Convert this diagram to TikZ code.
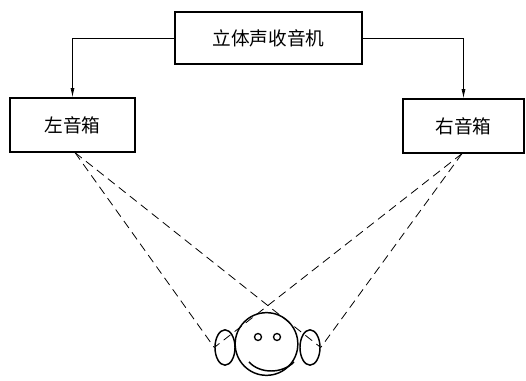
\documentclass[tikz,border=0pt]{standalone}
\usepackage{fontspec}
\newfontfamily\cjk{Noto Sans CJK SC}
\usetikzlibrary{calc,positioning,shapes.geometric,arrows.meta}
\tikzset{
    box/.style={draw, line width=1.4pt, minimum height=40pt, font=\cjk\fontsize{14}{16}\selectfont, inner sep=0pt},
    feed/.style={-{Latex[length=7pt,width=3pt]}, line width=0.6pt},
    sound/.style={dash pattern=on 6.5pt off 4pt, line width=0.6pt},
    ear/.style={draw, ellipse, line width=1.1pt, minimum width=15pt, minimum height=26.5pt, inner sep=0pt},
}

\begin{document}
\begin{tikzpicture}[x=0.75pt,y=0.75pt,yscale=-1,xscale=1]
\useasboundingbox (0,0) rectangle (526,381);
%Boxes
\node[box, minimum width=140pt, minimum height=39pt] (radio) at (268.5,38) {立体声收音机};
\node[box, minimum width=94pt] (lspk) at (72.5,125) {左音箱};
\node[box, minimum width=91pt] (rspk) at (463.5,126) {右音箱};
%Feeds
\draw[feed] (radio.west) -| (lspk.north);
\draw[feed] (radio.east) -| (rspk.north);
%Listener
\node[ear] (lear) at (225,347.5) {};
\node[ear] (rear) at (310,347.5) {};
\node[draw, circle, line width=1.1pt, minimum size=47pt, inner sep=0pt] (head) at (266.5,344) {};
\draw[line width=1pt] (258,337) circle (3.5);
\draw[line width=1pt] (277,337) circle (3.5);
\draw[line width=1.1pt] (249,362) .. controls (260,374) and (282,374) .. (294,362);
%Sound paths
\coordinate (lout) at ($(lspk.south)+(2.5,0)$);
\coordinate (rout) at ($(rspk.south)+(-1.5,0)$);
\draw[sound] (lout) -- (lear.west);
\draw[sound] (lout) -- (rear.east);
\draw[sound] (rout) -- (rear.east);
\draw[sound] (rout) -- (lear.west);
\end{tikzpicture}
\end{document}
